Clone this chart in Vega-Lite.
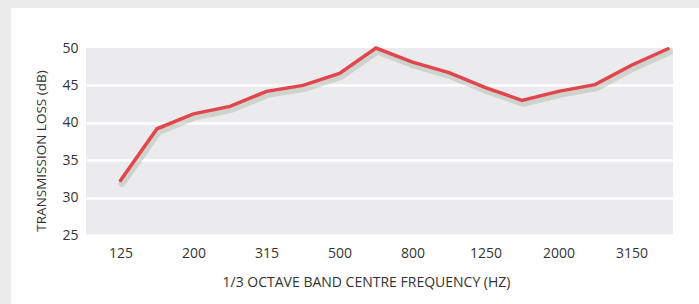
{
  "$schema": "https://vega.github.io/schema/vega-lite/v6.json",
  "padding": 0,
  "background": "white",
  "spacing": -7,
  "config": {
    "view": {"stroke": null},
    "font": "Open Sans",
    "axis": {"labelFont": "Open Sans", "titleFont": "Open Sans", "labelColor": "#333333", "titleColor": "#333333"}
  },
  "datasets": {
    "tl": [
      {"freq": 125, "tl": 32.3},
      {"freq": 160, "tl": 39.2},
      {"freq": 200, "tl": 41.2},
      {"freq": 250, "tl": 42.2},
      {"freq": 315, "tl": 44.2},
      {"freq": 400, "tl": 45.0},
      {"freq": 500, "tl": 46.6},
      {"freq": 630, "tl": 50.0},
      {"freq": 800, "tl": 48.1},
      {"freq": 1000, "tl": 46.7},
      {"freq": 1250, "tl": 44.7},
      {"freq": 1600, "tl": 43.0},
      {"freq": 2000, "tl": 44.2},
      {"freq": 2500, "tl": 45.1},
      {"freq": 3150, "tl": 47.7},
      {"freq": 4000, "tl": 49.9}
    ]
  },
  "vconcat": [
    {
      "spacing": 0,
      "hconcat": [
        {
          "width": 11,
          "height": 48,
          "view": {"fill": "#ebebeb", "stroke": null},
          "data": {"values": []},
          "mark": "point",
          "encoding": {}
        },
        {
          "width": 688,
          "height": 8,
          "view": {"fill": "#ebebeb", "stroke": null},
          "data": {"values": []},
          "mark": "point",
          "encoding": {}
        }
      ]
    },
    {
      "spacing": 0,
      "hconcat": [
        {
          "width": 11,
          "height": 256,
          "view": {"fill": "#ebebeb", "stroke": null},
          "data": {"values": []},
          "mark": "point",
          "encoding": {}
        },
        {
          "width": 587,
          "height": 187,
          "view": {"fill": "#ebebed", "stroke": null},
          "data": {"name": "tl"},
          "encoding": {
            "x": {
              "field": "freq",
              "type": "ordinal",
              "sort": null,
              "scale": {"type": "point", "padding": 0.541, "align": 0.873},
              "axis": {
                "values": [125, 200, 315, 500, 800, 1250, 2000, 3150],
                "labelAngle": 0,
                "ticks": false,
                "domain": false,
                "grid": false,
                "labelPadding": 11,
                "labelFontSize": 14,
                "title": "1/3 OCTAVE BAND CENTRE FREQUENCY (HZ)",
                "titleFontSize": 14,
                "titleFontWeight": "normal",
                "titleX": 280,
                "titleY": 40,
                "titleBaseline": "top"
              }
            },
            "y": {
              "field": "tl",
              "type": "quantitative",
              "scale": {"domain": [25, 50], "nice": false, "zero": false},
              "axis": {
                "values": [25, 30, 35, 40, 45, 50],
                "grid": true,
                "gridColor": "white",
                "gridWidth": 2.5,
                "gridOpacity": {"condition": {"test": "datum.value >= 50", "value": 0}, "value": 1},
                "ticks": false,
                "domain": false,
                "labelPadding": 8,
                "labelFontSize": 14,
                "minExtent": 75,
                "title": "TRANSMISSION LOSS (dB)",
                "titleFontSize": 13.5,
                "titleFontWeight": "normal",
                "titleX": -38,
                "titleY": 102.5,
                "titleBaseline": "bottom",
                "titleAngle": -90
              }
            }
          },
          "layer": [
            {
              "mark": {"type": "line", "color": "#9aa596", "strokeWidth": 7, "opacity": 0.35, "xOffset": 1.5, "yOffset": 3, "strokeJoin": "round", "strokeCap": "round"}
            },
            {
              "mark": {"type": "line", "color": "#e0464c", "strokeWidth": 3.5, "strokeJoin": "miter", "strokeCap": "round"}
            }
          ]
        }
      ]
    }
  ]
}
